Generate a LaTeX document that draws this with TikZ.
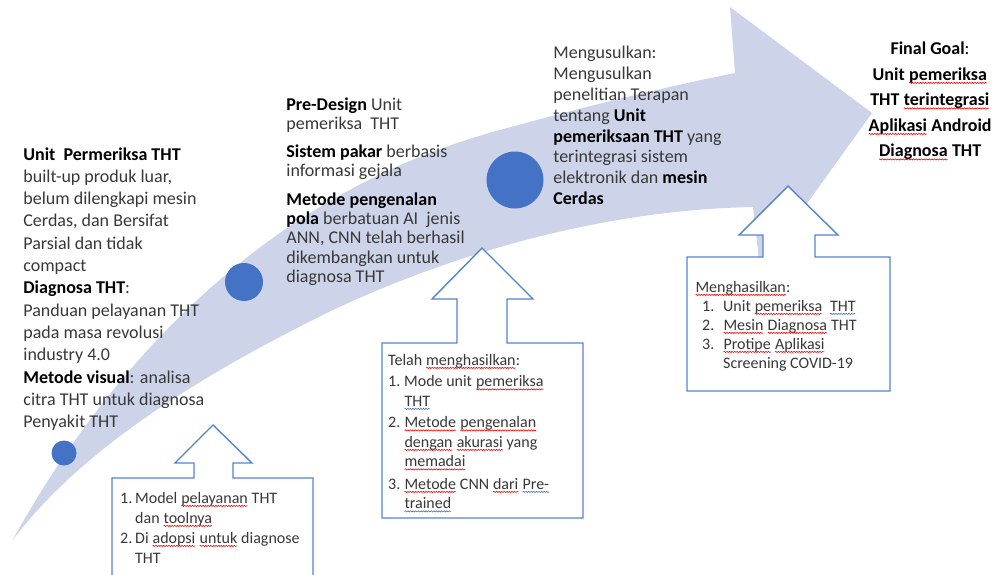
\documentclass[tikz,border=0pt]{standalone}
\usepackage{fontspec}
\setmainfont{Carlito}
\usetikzlibrary{decorations.pathmorphing}
\definecolor{band}{HTML}{CDD4EA}
\definecolor{blue1}{HTML}{4472C4}
\definecolor{line1}{HTML}{5584CF}
% spell-check squiggle under a word
\newcommand\sq[2][red]{\tikz[baseline=(w.base)]{\node[inner sep=0pt, outer sep=0pt] (w) {#2};
  \draw[#1, line width=0.6pt, decorate, decoration={snake, amplitude=0.6pt, segment length=2.6pt}]
  ([yshift=-2.6pt]w.base west) -- ([yshift=-2.6pt]w.base east);}}
\begin{document}
\begin{tikzpicture}[x=1pt, y=-1pt, thick,
  dot/.style = {circle, fill=blue1, inner sep=0pt},
  txt/.style = {anchor=north west, inner sep=0pt, align=left, text=black!78},
  big/.style = {txt, font=\fontsize{18}{22.3}\selectfont},
  small/.style = {txt, font=\fontsize{16}{19.5}\selectfont},
  callout/.style = {draw=line1, fill=white, line width=1.4pt}]
\useasboundingbox (0,0) rectangle (998,575);
% big curved arrow
\fill[band] (12,541) .. controls (90,400) and (240,200) .. (500,130)
  .. controls (580,108) and (660,88) .. (735,73) -- (730,7) -- (872,113)
  -- (760,269) -- (753,207) .. controls (600,210) and (450,255) .. (333,310)
  .. controls (200,375) and (80,450) .. cycle;
% milestones
\node[dot, minimum size=25pt] (1) at (64,453) {};
\node[dot, minimum size=38pt] (2) at (244,282) {};
\node[dot, minimum size=57pt] (3) at (515,180) {};
% callouts
\draw[callout] (112,590) -- (112,478) -- (194,478) -- (194,463) -- (175,463) -- (213,425)
  -- (252,463) -- (233,463) -- (233,478) -- (313,478) -- (313,590);
\draw[callout] (382,518) -- (382,343) -- (457,343) -- (457,299) -- (432,299) -- (482,248)
  -- (533,299) -- (507,299) -- (507,343) -- (583,343) -- (583,518) -- cycle;
\draw[callout] (687,391) -- (687,257) -- (763,257) -- (763,235) -- (739,235) -- (788,186)
  -- (838,235) -- (815,235) -- (815,257) -- (890,257) -- (890,391) -- cycle;
% texts
\node[big] (kondisi) at (23,147) {\textbf{\color{black}Unit\ \ Permeriksa THT}\\
  built-up produk luar,\\ belum dilengkapi mesin\\ Cerdas, dan Bersifat\\
  Parsial dan tidak\\ compact\\ \textbf{\color{black}Diagnosa THT}:\\
  Panduan pelayanan THT\\ pada masa revolusi\\ industry 4.0\\
  \textbf{\color{black}Metode visual}: analisa\\ citra THT untuk diagnosa\\ Penyakit THT};
\node[big, font=\fontsize{18}{19.3}\selectfont] (predesign) at (286,97)
  {\textbf{\color{black}Pre-Design} Unit\\ pemeriksa\ \ THT\\[9pt]
  \textbf{\color{black}Sistem pakar} berbasis\\ informasi gejala\\[9pt]
  \textbf{\color{black}Metode pengenalan}\\ \textbf{\color{black}pola} berbatuan AI\ \ jenis\\
  ANN, CNN telah berhasil\\ dikembangkan untuk\\ diagnosa THT};
\node[big, font=\fontsize{18}{20.8}\selectfont] (usul) at (553,46)
  {Mengusulkan:\\ Mengusulkan\\ penelitian Terapan\\ tentang \textbf{\color{black}Unit}\\
  \textbf{\color{black}pemeriksaan THT} yang\\ terintegrasi sistem\\
  elektronik dan \textbf{\color{black}mesin}\\ \textbf{\color{black}Cerdas}};
\node[big, anchor=north, align=center, text=black, font=\bfseries\fontsize{18}{25.5}\selectfont] (goal) at (930,42)
  {Final Goal\textmd{:}\\ Unit \sq{pemeriksa}\\ THT \sq{terintegrasi}\\
  \sq{Aplikasi} Android\\ \sq{Diagnosa} THT};
\node[small, font=\fontsize{16}{20}\selectfont] (hasil1) at (120,492)
  {\makebox[15pt][l]{1.}Model \sq{pelayanan} THT\\ \hspace*{15pt}dan \sq{toolnya}\\
  \makebox[15pt][l]{2.}Di \sq{adopsi} \sq{untuk} diagnose\\ \hspace*{15pt}THT};
\node[small] (hasil2) at (388,354)
  {Telah \sq{menghasilkan}:\\[2pt] \makebox[16pt][l]{1.}Mode unit \sq{pemeriksa}\\
  \hspace*{16pt}\sq[blue1]{THT}\\[2pt] \makebox[16pt][l]{2.}\sq{Metode} \sq{pengenalan}\\
  \hspace*{16pt}\sq{dengan} \sq{akurasi} yang\\ \hspace*{16pt}\sq{memadai}\\[3pt]
  \makebox[16pt][l]{3.}\sq{Metode} CNN \sq{dari} \sq[blue1]{Pre-}\\ \hspace*{16pt}\sq[blue1]{trained}};
\node[small, font=\fontsize{16}{19}\selectfont] (hasil3) at (695,281)
  {\sq{Menghasilkan}:\\ \hspace*{7pt}\makebox[21pt][l]{1.}Unit \sq{pemeriksa}\ \ \sq[blue1]{THT}\\
  \hspace*{7pt}\makebox[21pt][l]{2.}\sq{Mesin} \sq{Diagnosa} THT\\
  \hspace*{7pt}\makebox[21pt][l]{3.}\sq{Protipe} \sq{Aplikasi}\\
  \hspace*{28pt}Screening COVID-19};
\end{tikzpicture}
\end{document}
